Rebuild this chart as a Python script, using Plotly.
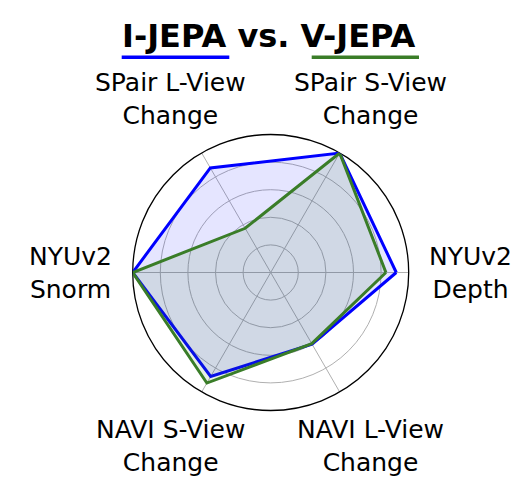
import math
import plotly.graph_objects as go

# ---- data ----
categories = ["NYUv2<br>Depth", "SPair S-View<br>Change", "SPair L-View<br>Change",
              "NYUv2<br>Snorm", "NAVI S-View<br>Change", "NAVI L-View<br>Change"]
ijepa_values = [0.91, 1.00, 0.875, 1.00, 0.87, 0.60]
vjepa_values = [0.835, 1.00, 0.37, 1.00, 0.925, 0.595]
series_names = ["I-JEPA", "V-JEPA"]
grid_ticks = [0.2, 0.4, 0.6, 0.8]

# ---- style / layout ----
W, H = 526, 484
CX, CY = 270.7, 272.5   # polar centre in px (from top-left)
R = 138.0               # polar radius px
LABEL_R = 200.0
BLUE = "#0000ff"
GREEN = "#3a7d28"
FONT = "DejaVu Sans"

def closed(v):
    return list(v) + [v[0]]

fig = go.Figure()
fig.add_trace(go.Scatterpolar(
    r=closed(ijepa_values), theta=closed(categories), mode="lines",
    line=dict(color=BLUE, width=3), fill="toself",
    fillcolor="rgba(0,0,255,0.10)", name=series_names[0], showlegend=False))
fig.add_trace(go.Scatterpolar(
    r=closed(vjepa_values), theta=closed(categories), mode="lines",
    line=dict(color=GREEN, width=3), fill="toself",
    fillcolor="rgba(58,125,40,0.12)", name=series_names[1], showlegend=False))

dom_x = [(CX - R) / W, (CX + R) / W]
dom_y = [(H - CY - R) / H, (H - CY + R) / H]

fig.update_layout(
    width=W, height=H,
    margin=dict(l=0, r=0, t=0, b=0),
    paper_bgcolor="white", plot_bgcolor="white",
    polar=dict(
        domain=dict(x=dom_x, y=dom_y),
        bgcolor="white",
        radialaxis=dict(range=[0, 1], tickvals=grid_ticks, showticklabels=False,
                        ticks="", showline=False, gridcolor="#b0b0b0", gridwidth=1,
                        layer="below traces"),
        angularaxis=dict(type="category", categoryarray=categories, rotation=0,
                         direction="counterclockwise", showticklabels=False, ticks="",
                         showline=True, linecolor="black", linewidth=1.3,
                         gridcolor="#b0b0b0", gridwidth=1, layer="below traces"),
    ),
)

# category labels
n = len(categories)
for i, cat in enumerate(categories):
    ang = 2 * math.pi * i / n
    px = CX + LABEL_R * math.cos(ang)
    py = CY - LABEL_R * math.sin(ang)
    fig.add_annotation(x=px / W, y=1 - py / H, xref="paper", yref="paper",
                       text=cat, showarrow=False, xanchor="center", yanchor="middle",
                       align="center", font=dict(family=FONT, size=25, color="black"))

# title
fig.add_annotation(x=268.5 / W, y=1 - 36.5 / H, xref="paper", yref="paper",
                   text="<b>%s vs. %s</b>" % (series_names[0], series_names[1]),
                   showarrow=False, xanchor="center", yanchor="middle",
                   font=dict(family=FONT, size=32, color="black"))
# underlines
uy = 1 - 57.3 / H
fig.add_shape(type="line", xref="paper", yref="paper", x0=121.7 / W, x1=229.3 / W,
              y0=uy, y1=uy, line=dict(color=BLUE, width=3.5))
fig.add_shape(type="line", xref="paper", yref="paper", x0=311.7 / W, x1=419 / W,
              y0=uy, y1=uy, line=dict(color=GREEN, width=3.5))

fig.write_html("out.html", config={"displayModeBar": False},
               post_script="document.body.style.margin='0px';document.body.style.overflow='hidden';")
